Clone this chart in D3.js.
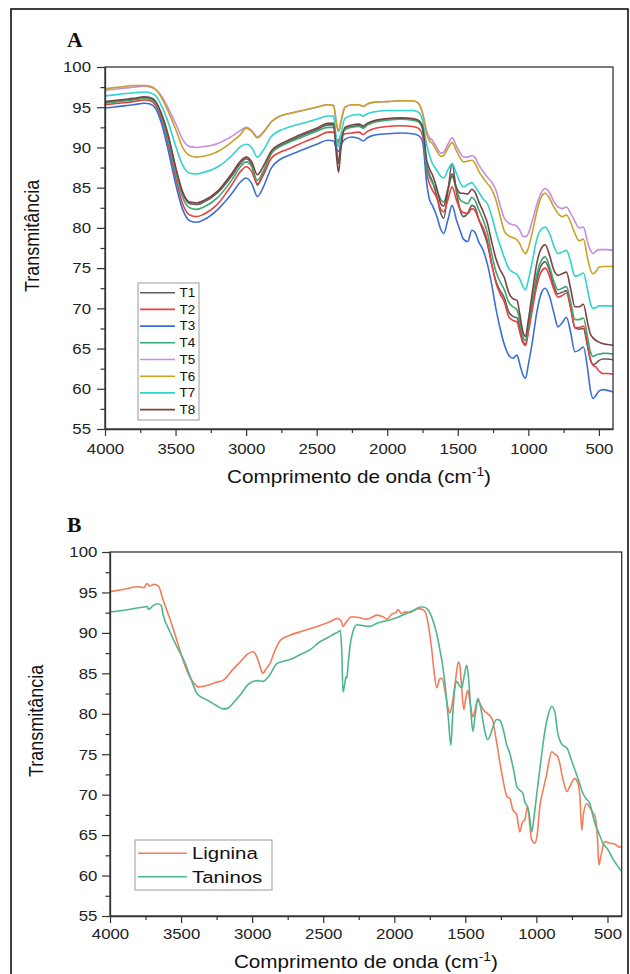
<!DOCTYPE html>
<html><head><meta charset="utf-8">
<script src="https://cdn.jsdelivr.net/npm/d3@7/dist/d3.min.js"></script>
<style>body{margin:0;background:#fff}svg{display:block}</style>
</head><body>
<svg id="c" width="630" height="974"></svg>
<script>
// ---------------- DATA ----------------
const wavenumbersA = [4000,3900,3800,3720,3680,3640,3600,3550,3500,3450,
3400,3350,3300,3200,3100,3040,3000,2960,2920,2880,
2820,2760,2700,2600,2500,2420,2380,2360,2345,2330,
2300,2250,2200,2170,2140,2100,2000,1900,1820,1780,
1750,1720,1700,1680,1650,1620,1600,1570,1540,1510,
1480,1460,1430,1400,1380,1350,1320,1290,1260,1230,
1200,1170,1140,1110,1080,1060,1040,1020,1000,970,
940,910,880,850,820,790,760,730,700,670,
640,610,580,560,540,520,500,470,440,400];

const seriesNamesA = ["T1","T2","T3","T4","T5","T6","T7","T8"];

const T1 = [95.6,95.8,96.0,96.2,96.1,95.6,94.1,91.2,87.4,84.3,
83.0,82.9,83.2,84.4,86.5,88.0,88.6,87.8,85.3,86.8,
89.3,90.2,90.7,91.5,92.2,92.8,92.8,90.0,88.0,90.5,
92.3,92.6,92.7,92.5,92.9,93.2,93.5,93.6,93.5,93.3,
92.5,87.8,86.6,85.8,84.0,81.8,81.2,84.5,88.0,84.5,
82.0,81.4,81.8,82.8,82.6,81.0,79.6,78.0,75.5,73.4,
72.2,71.3,69.6,69.0,68.8,67.6,66.0,65.5,67.3,70.6,
73.5,75.3,75.8,74.7,72.8,71.8,72.0,72.2,70.2,67.6,
67.4,67.5,65.2,63.6,63.0,63.2,63.5,63.7,63.7,63.6];
const T2 = [95.3,95.5,95.7,95.9,95.8,95.2,93.5,90.2,86.3,83.0,
81.6,81.4,81.7,83.0,85.4,87.0,87.6,87.0,85.5,86.5,
88.7,89.4,89.8,90.6,91.3,91.9,91.9,91.0,90.9,91.3,
91.7,91.8,91.9,91.6,92.0,92.3,92.6,92.7,92.6,92.4,
91.5,86.7,85.5,84.7,83.8,82.3,82.0,83.5,85.1,83.5,
82.2,81.9,81.8,82.4,82.2,81.0,80.0,78.4,75.6,73.2,
71.8,70.8,69.0,68.5,68.3,67.0,65.8,65.4,67.0,70.0,
72.8,74.5,75.0,74.0,72.4,71.4,71.6,71.9,70.0,67.6,
67.6,67.8,65.5,63.6,62.9,62.7,62.2,61.9,61.9,61.8];
const T3 = [94.9,95.1,95.3,95.5,95.4,94.8,93.0,89.5,85.5,82.3,
80.9,80.7,81.0,82.3,84.3,85.7,86.2,85.5,83.9,85.0,
87.5,88.5,89.0,89.7,90.4,90.9,90.8,89.8,89.5,90.2,
91.0,91.3,91.1,90.8,91.2,91.5,91.7,91.8,91.7,91.5,
90.8,85.5,83.5,82.8,81.5,79.8,79.3,81.0,82.8,81.0,
79.5,78.6,78.3,79.7,79.5,78.2,77.2,75.5,73.0,70.0,
67.5,65.5,64.2,63.8,64.2,63.0,61.8,61.3,63.0,66.0,
69.5,71.8,72.5,71.5,69.5,67.7,68.2,68.9,67.0,64.6,
64.8,65.2,62.5,59.8,58.8,59.2,59.7,59.9,59.8,59.6];
const T4 = [95.5,95.7,95.9,96.1,96.0,95.5,93.9,90.8,87.0,83.8,
82.5,82.3,82.6,83.8,86.0,87.6,88.2,87.6,85.9,87.0,
89.3,90.1,90.6,91.3,92.0,92.5,92.5,91.0,90.6,91.5,
92.2,92.5,92.6,92.4,92.8,93.1,93.4,93.5,93.4,93.2,
92.3,87.4,86.3,85.6,84.8,83.5,83.2,84.8,86.4,84.8,
83.4,83.2,83.0,83.8,83.5,82.2,81.0,79.4,76.8,74.6,
73.3,72.3,70.8,70.2,69.8,68.3,66.6,66.0,67.8,71.2,
74.2,75.9,76.4,75.2,73.4,72.3,72.5,72.7,70.8,68.6,
68.6,68.8,66.4,64.6,64.0,64.2,64.3,64.4,64.4,64.3];
const T5 = [97.1,97.3,97.5,97.6,97.5,97.2,96.4,94.8,93.0,91.0,
90.1,90.0,90.1,90.5,91.4,92.1,92.5,92.1,91.3,91.9,
93.2,93.9,94.2,94.6,95.0,95.3,95.2,93.0,92.0,93.0,
95.0,95.3,95.3,95.1,95.4,95.6,95.7,95.8,95.8,95.5,
94.3,92.0,91.2,90.9,90.0,89.3,89.4,90.4,91.2,90.2,
89.2,88.8,88.8,89.0,88.8,87.8,87.0,86.3,85.7,84.7,
82.8,81.2,80.6,80.4,80.2,79.7,79.0,78.9,79.3,81.0,
82.9,84.3,84.9,84.4,83.3,82.6,82.4,82.6,81.8,80.8,
80.0,80.1,78.2,77.2,76.8,77.1,77.3,77.3,77.3,77.2];
const T6 = [97.3,97.5,97.7,97.7,97.6,97.2,96.2,94.4,92.3,90.0,
89.0,88.8,88.9,89.5,90.7,91.6,92.4,92.0,91.2,91.8,
93.2,93.9,94.2,94.6,95.0,95.3,95.2,93.0,92.0,93.0,
95.0,95.3,95.3,95.1,95.4,95.6,95.7,95.8,95.8,95.5,
94.3,91.7,90.8,90.5,89.6,88.9,89.0,89.9,90.6,89.6,
88.6,88.2,88.3,88.4,88.1,87.0,86.2,85.5,84.8,83.5,
81.5,79.6,79.0,78.8,78.5,78.0,77.2,76.8,77.5,79.6,
82.0,83.8,84.3,83.7,82.6,81.8,81.4,81.6,80.7,79.3,
78.4,78.6,76.2,74.8,74.3,74.6,75.1,75.2,75.2,75.2];
const T7 = [96.4,96.6,96.8,96.9,96.8,96.4,95.2,93.0,90.2,87.8,
86.8,86.7,86.9,87.6,89.0,90.1,90.4,90.0,88.8,89.6,
91.4,92.1,92.5,93.0,93.5,93.9,93.9,91.0,90.1,91.5,
93.6,94.0,94.1,93.9,94.2,94.4,94.6,94.6,94.6,94.4,
93.4,90.3,89.0,88.0,87.2,86.4,86.2,87.2,88.0,86.8,
85.5,85.1,85.4,85.6,85.2,84.4,83.6,83.0,81.5,79.5,
77.8,76.3,75.0,74.5,74.2,73.6,72.8,72.3,73.5,76.0,
78.6,79.8,80.1,79.3,77.8,76.8,77.0,77.2,75.8,74.0,
74.1,74.4,72.3,70.6,70.0,70.1,70.3,70.3,70.3,70.3];
const T8 = [95.7,95.9,96.1,96.3,96.2,95.7,94.2,91.4,87.6,84.5,
83.2,83.1,83.4,84.6,86.8,88.3,88.8,88.2,86.6,87.6,
89.6,90.4,90.9,91.7,92.4,93.0,93.0,89.0,86.9,89.5,
92.5,92.8,92.9,92.7,93.0,93.3,93.6,93.7,93.6,93.4,
92.6,88.4,87.3,86.6,85.0,83.0,82.7,84.8,86.7,85.0,
84.3,84.3,84.2,84.8,84.5,83.2,82.0,80.6,78.3,76.2,
74.8,73.8,72.0,71.2,71.0,69.2,67.2,66.5,68.5,72.2,
75.6,77.4,77.9,76.6,74.8,74.1,74.3,74.5,72.4,70.2,
70.2,70.5,68.2,66.8,66.3,66.0,65.8,65.6,65.5,65.4];

// Panel B: [wavenumber, transmittance]
const lignina = [[4000,95.1],[3900,95.4],[3800,95.7],[3760,95.6],[3740,96.1],[3720,95.8],[3690,96.0],[3660,95.8],[3627,94.1],[3580,91.8],
[3530,89.1],[3480,86.3],[3440,84.6],[3400,83.6],[3380,83.3],[3340,83.4],[3300,83.6],[3250,83.9],[3200,84.2],[3140,85.4],
[3080,86.5],[3030,87.4],[2994,87.7],[2966,87.0],[2940,85.6],[2924,85.0],[2900,85.6],[2875,86.2],[2840,87.8],[2800,89.1],
[2734,89.7],[2650,90.2],[2523,90.9],[2450,91.4],[2400,91.8],[2375,91.5],[2361,90.8],[2340,91.3],[2300,92.0],[2250,91.9],
[2200,91.7],[2170,91.8],[2150,92.0],[2120,92.2],[2080,92.0],[2050,91.7],[2020,92.3],[1990,92.5],[1975,92.9],[1950,92.4],
[1920,92.6],[1890,92.5],[1860,92.8],[1840,93.0],[1800,92.9],[1780,92.5],[1765,91.4],[1750,89.8],[1736,87.9],[1720,85.2],
[1701,83.2],[1680,84.3],[1665,84.4],[1640,82.5],[1620,80.6],[1609,80.1],[1595,81.0],[1570,84.0],[1550,86.4],[1539,86.0],
[1525,83.0],[1511,80.5],[1498,81.8],[1483,82.9],[1465,81.2],[1447,79.6],[1430,80.6],[1412,81.7],[1390,81.0],[1370,80.4],
[1349,80.1],[1330,79.8],[1307,79.2],[1295,78.0],[1279,76.4],[1260,74.3],[1240,72.3],[1208,69.8],[1185,69.5],[1166,68.1],
[1140,67.6],[1117,65.4],[1100,66.5],[1082,66.9],[1061,68.5],[1045,66.0],[1033,64.4],[1011,64.0],[995,65.0],[976,68.5],
[950,70.8],[927,72.6],[910,74.3],[892,75.3],[870,75.0],[850,74.7],[835,73.8],[822,72.6],[800,71.0],[786,70.4],
[760,71.2],[730,72.0],[710,71.5],[695,70.0],[681,65.6],[670,67.5],[646,68.9],[620,68.3],[600,67.7],[589,67.4],
[570,64.5],[561,61.3],[545,62.5],[519,64.2],[500,64.1],[484,64.0],[450,63.9],[414,63.5],[400,63.7]];

const taninos = [[4000,92.6],[3900,92.8],[3800,93.1],[3760,93.2],[3740,93.3],[3730,92.9],[3700,93.3],[3670,93.6],[3640,93.4],[3627,92.3],
[3580,90.2],[3530,88.3],[3480,86.6],[3440,84.8],[3388,82.5],[3340,81.9],[3297,81.5],[3250,81.0],[3205,80.6],[3170,80.7],
[3135,81.3],[3080,82.4],[3030,83.6],[2994,84.0],[2960,84.1],[2924,84.0],[2880,84.7],[2826,86.2],[2780,86.5],[2734,86.7],
[2664,87.3],[2594,87.9],[2523,88.9],[2460,89.5],[2420,89.9],[2397,90.1],[2380,90.3],[2368,87.0],[2361,82.7],[2350,83.5],
[2340,84.6],[2334,84.4],[2325,86.0],[2312,88.3],[2290,90.2],[2263,91.0],[2220,90.9],[2172,90.8],[2120,91.2],[2080,91.4],
[2031,91.6],[1980,91.9],[1940,92.2],[1890,92.6],[1850,92.9],[1820,93.2],[1799,93.2],[1770,93.0],[1750,92.5],[1729,91.6],
[1700,89.8],[1679,87.9],[1660,86.0],[1644,83.8],[1620,79.5],[1602,76.1],[1590,79.5],[1575,83.0],[1560,84.0],[1540,83.4],
[1525,83.2],[1510,84.5],[1490,86.0],[1478,84.5],[1460,80.0],[1447,77.8],[1430,80.0],[1412,81.9],[1395,81.0],[1384,80.0],
[1365,78.0],[1342,76.8],[1320,77.6],[1300,78.7],[1280,79.3],[1257,79.2],[1230,77.8],[1210,76.2],[1187,75.1],[1160,73.0],
[1138,71.0],[1120,70.6],[1096,70.2],[1080,69.0],[1068,68.7],[1050,67.5],[1033,65.4],[1015,67.5],[997,70.2],[970,74.0],
[941,77.8],[915,80.0],[892,80.9],[870,80.2],[850,77.6],[830,76.5],[814,76.1],[786,75.8],[760,74.6],[730,73.1],
[700,71.6],[674,70.2],[650,69.5],[624,68.9],[600,67.2],[589,66.5],[560,65.2],[533,64.0],[500,63.3],[463,62.1],
[430,61.2],[400,60.5]];

const xMajorTicks = [4000,3500,3000,2500,2000,1500,1000,500];
const xMinorTicks = [3750,3250,2750,2250,1750,1250,750];
const yMajorTicks = [55,60,65,70,75,80,85,90,95,100];
const yMinorTicks = [57.5,62.5,67.5,72.5,77.5,82.5,87.5,92.5,97.5];

// ---------------- STYLE ----------------
const coloursA = ["#5e5e5e","#e8403e","#3b6fd6","#3da872","#c58ee0","#c9a227","#2fd3cf","#7c4242"];
const colourLig = "#f47c5a";
const colourTan = "#4fb590";
const SANS = "'Liberation Sans', Arial, Helvetica, sans-serif";
const SERIF = "'Liberation Serif', 'Times New Roman', serif";

const svg = d3.select("#c");
svg.append("rect").attr("x",0).attr("y",0).attr("width",630).attr("height",974).attr("fill","#fff");
svg.append("rect").attr("x",11).attr("y",9).attr("width",617).attr("height",990)
  .attr("fill","none").attr("stroke","#111").attr("stroke-width",1.6);

function drawPanel(p){
  const g = svg.append("g");
  const x = d3.scaleLinear().domain([4000,400]).range([p.x0,p.x1]);
  const y = d3.scaleLinear().domain([55,100]).range([p.y1,p.y0]);
  const clipId = "clip"+p.id;
  g.append("clipPath").attr("id",clipId).append("rect")
    .attr("x",p.x0).attr("y",p.y0).attr("width",p.x1-p.x0).attr("height",p.y1-p.y0);

  const line = d3.line().x(d=>x(d[0])).y(d=>y(d[1])).curve(d3.curveMonotoneX);
  const lg = g.append("g").attr("clip-path",`url(#${clipId})`);
  p.series.forEach(s=>{
    lg.append("path").datum(s.data).attr("d",line).attr("fill","none")
      .attr("stroke",s.colour).attr("stroke-width",p.lw).attr("stroke-linejoin","round");
  });

  // frame
  g.append("rect").attr("x",p.x0).attr("y",p.y0).attr("width",p.x1-p.x0).attr("height",p.y1-p.y0)
    .attr("fill","none").attr("stroke","#333").attr("stroke-width",1.3);

  // x axis
  const xa = g.append("g").attr("transform",`translate(0,${p.y1})`)
    .call(d3.axisBottom(x).tickValues(xMajorTicks).tickSize(7).tickSizeOuter(0).tickPadding(p.xPad).tickFormat(d3.format("d")));
  const xm = g.append("g").attr("transform",`translate(0,${p.y1})`)
    .call(d3.axisBottom(x).tickValues(xMinorTicks).tickSize(4).tickSizeOuter(0).tickFormat(""));
  xm.select(".domain").remove();
  // y axis
  const ya = g.append("g").attr("transform",`translate(${p.x0},0)`)
    .call(d3.axisLeft(y).tickValues(yMajorTicks).tickSize(8).tickSizeOuter(0).tickPadding(p.yPad).tickFormat(d3.format("d")));
  const ym = g.append("g").attr("transform",`translate(${p.x0},0)`)
    .call(d3.axisLeft(y).tickValues(yMinorTicks).tickSize(4.5).tickSizeOuter(0).tickFormat(""));
  ym.select(".domain").remove();
  [xa,xm,ya,ym].forEach(a=>{
    a.select(".domain").attr("stroke","#333").attr("stroke-width",1.3);
    a.selectAll(".tick line").attr("stroke","#333").attr("stroke-width",1.2);
    a.selectAll("text").attr("font-family",SANS).attr("font-size","15px").attr("fill","#222")
      .attr("transform","scale(1.12,1)");
  });

  // titles
  const xt = g.append("text").attr("transform",`translate(${(p.x0+p.x1)/2},${p.xTitleY}) scale(1.15,1)`)
    .attr("text-anchor","middle").attr("font-family",SANS).attr("font-size","18px").attr("fill","#111");
  xt.append("tspan").text("Comprimento de onda (cm");
  xt.append("tspan").attr("font-size","12px").attr("dy","-7").text("-1");
  xt.append("tspan").attr("dy","7").text(")");

  g.append("text").attr("transform",`translate(${p.yTitleX},${p.yTitleY}) rotate(-90) scale(1,1.15)`)
    .attr("text-anchor","middle").attr("font-family",SANS).attr("font-size","18px").attr("fill","#111")
    .text("Transmitância");

  g.append("text").attr("transform",`translate(67,${p.labelY}) scale(1.08,1)`)
    .attr("font-family",SERIF).attr("font-weight","bold").attr("font-size","20px").attr("fill","#111")
    .text(p.label);

  // legend
  const L = p.legend;
  const leg = g.append("g");
  leg.append("rect").attr("x",L.x).attr("y",L.y).attr("width",L.w).attr("height",L.h)
    .attr("fill","#fff").attr("stroke","#9a9a9a").attr("stroke-width",1);
  p.series.forEach((s,i)=>{
    const yy = L.y0 + i*L.step;
    leg.append("line").attr("x1",L.lx1).attr("x2",L.lx2).attr("y1",yy).attr("y2",yy)
      .attr("stroke",s.colour).attr("stroke-width",p.lw);
    leg.append("text").attr("transform",`translate(${L.tx},${yy}) scale(${L.sx},1)`)
      .attr("dy","0.36em").attr("font-family",SANS).attr("font-size",L.fs+"px").attr("fill","#111")
      .text(s.name);
  });
}

const seriesValuesA = [T1,T2,T3,T4,T5,T6,T7,T8];
drawPanel({
  id:"A", label:"A", labelY:47,
  x0:105, x1:613, y0:67, y1:429, lw:1.6, xPad:7, yPad:4.5,
  xTitleY:483, yTitleX:39, yTitleY:236,
  series: seriesNamesA.map((n,i)=>({name:n, colour:coloursA[i], data:wavenumbersA.map((w,j)=>[w,seriesValuesA[i][j]])})),
  legend:{x:138,y:283,w:61,h:137,y0:292.7,step:16.7,lx1:140,lx2:175,tx:179.5,fs:12,sx:1.12}
});

drawPanel({
  id:"B", label:"B", labelY:532,
  x0:110, x1:621.7, y0:552, y1:916, lw:1.6, xPad:5, yPad:3.3,
  xTitleY:968, yTitleX:43, yTitleY:721,
  series:[{name:"Lignina", colour:colourLig, data:lignina},{name:"Taninos", colour:colourTan, data:taninos}],
  legend:{x:135,y:840,w:137,h:50,y0:853.3,step:23.4,lx1:138,lx2:187,tx:192,fs:17,sx:1.2}
});
</script>
</body></html>
